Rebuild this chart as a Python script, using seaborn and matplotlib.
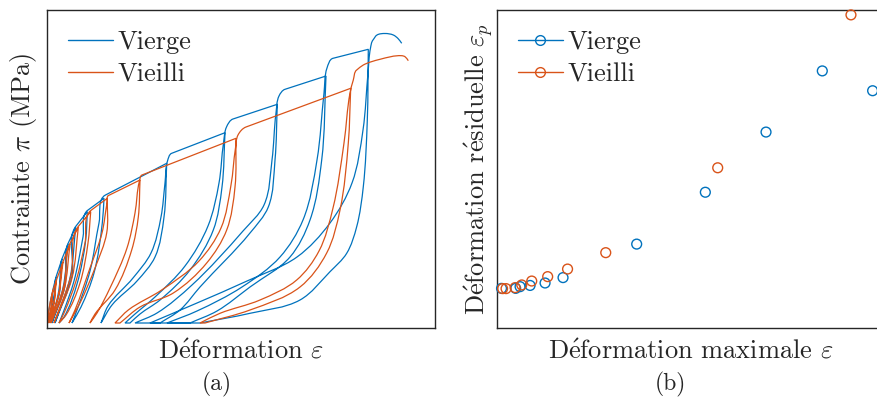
import numpy as np
import pandas as pd
import matplotlib
matplotlib.use('Agg')
import matplotlib.pyplot as plt
from matplotlib.path import Path
from matplotlib.patches import PathPatch
from matplotlib.lines import Line2D
import seaborn as sns

sns.set_theme(style='white')
plt.rcParams['font.family'] = ['cmr10', 'DejaVu Serif']
plt.rcParams['mathtext.fontset'] = 'cm'
plt.rcParams['axes.unicode_minus'] = False
plt.rcParams['axes.formatter.use_mathtext'] = True

blue = '#0072BD'
orange = '#D95319'

# ---- (a) cyclic stress-strain curves ----
# strain (x) and stress in MPa (y)
vierge_start = [(0, 0), (0.037, 0.23), (0.09, 0.46)]
vierge_unload = [
    [(0.09, 0.46), (0.06, 0.2), (0.015, 0)],
    [(0.15, 0.64), (0.11, 0.28), (0.03, 0)],
    [(0.21, 0.79), (0.16, 0.35), (0.05, 0)],
    [(0.287, 0.957), (0.23, 0.45), (0.08, 0)],
    [(0.403, 1.113), (0.387, 0.83), (0.303, 0.40), (0.17, 0.06), (0.12, 0)],
    [(0.57, 1.247), (0.553, 1.0), (0.47, 0.5), (0.34, 0.16), (0.25, 0)],
    [(1.197, 1.597), (1.17, 1.06), (1.08, 0.66), (0.9, 0.42), (0.65, 0.18), (0.54, 0)],
    [(1.78, 1.903), (1.75, 1.36), (1.663, 0.93), (1.43, 0.53), (1.13, 0.23), (0.93, 0.09), (0.83, 0)],
    [(2.303, 2.187), (2.28, 1.63), (2.213, 1.16), (2.03, 0.9), (1.53, 0.36), (1.33, 0.13), (1.13, 0)],
    [(2.79, 2.47), (2.747, 1.63), (2.63, 1.03), (2.43, 0.66), (2.03, 0.36), (1.7, 0.12), (1.43, 0)],
    [(3.213, 2.737), (3.203, 2.03), (3.163, 1.363), (3.097, 0.963), (2.997, 0.697),
     (2.83, 0.513), (2.53, 0.23), (2.03, 0.097), (1.53, 0)],
]
vierge_reload = [
    [(0.015, 0), (0.07, 0.22), (0.095, 0.475)],
    [(0.03, 0), (0.125, 0.3), (0.155, 0.655)],
    [(0.05, 0), (0.18, 0.37), (0.215, 0.805)],
    [(0.08, 0), (0.25, 0.47), (0.292, 0.972)],
    [(0.12, 0), (0.16, 0.10), (0.27, 0.42), (0.36, 0.86), (0.408, 1.128)],
    [(0.25, 0), (0.30, 0.13), (0.43, 0.52), (0.52, 1.0), (0.585, 1.28)],
    [(0.54, 0), (0.61, 0.17), (0.86, 0.45), (1.04, 0.70), (1.14, 1.06), (1.18, 1.40),
     (1.205, 1.62), (1.247, 1.697)],
    [(0.78, 0), (0.88, 0.09), (1.08, 0.26), (1.38, 0.57), (1.61, 0.97), (1.72, 1.40),
     (1.765, 1.80), (1.795, 1.96), (1.86, 2.04)],
    [(0.88, 0), (1.1, 0.1), (1.45, 0.38), (1.96, 0.92), (2.17, 1.18), (2.25, 1.63),
     (2.29, 2.1), (2.32, 2.27), (2.38, 2.337)],
    [(1.2, 0), (1.5, 0.12), (1.95, 0.36), (2.33, 0.66), (2.56, 1.03), (2.70, 1.63),
     (2.77, 2.3), (2.80, 2.55), (2.86, 2.647)],
    [(1.03, 0), (1.5, 0.2), (2.0, 0.42), (2.5, 0.66), (2.83, 1.0), (3.05, 1.4), (3.16, 1.93),
     (3.21, 2.5), (3.235, 2.75), (3.26, 2.83)],
]
vierge_tail = [(3.26, 2.83), (3.30, 2.88), (3.38, 2.895), (3.463, 2.88), (3.51, 2.845), (3.547, 2.797)]

vieilli_start = [(0, 0), (0.03, 0.2), (0.06, 0.33)]
vieilli_unload = [
    [(0.06, 0.33), (0.03, 0.1), (0.005, 0)],
    [(0.095, 0.43), (0.06, 0.15), (0.01, 0)],
    [(0.16, 0.61), (0.11, 0.25), (0.025, 0)],
    [(0.23, 0.79), (0.17, 0.33), (0.04, 0)],
    [(0.313, 0.957), (0.25, 0.45), (0.07, 0)],
    [(0.437, 1.113), (0.41, 0.8), (0.33, 0.4), (0.19, 0.08), (0.12, 0)],
    [(0.603, 1.247), (0.597, 0.9), (0.48, 0.55), (0.33, 0.2), (0.22, 0)],
    [(0.93, 1.43), (0.913, 1.06), (0.847, 0.73), (0.68, 0.33), (0.48, 0.09), (0.43, 0)],
    [(1.89, 1.847), (1.88, 1.36), (1.797, 0.93), (1.597, 0.6), (1.263, 0.3), (0.93, 0.16), (0.73, 0)],
    [(3.037, 2.347), (3.013, 1.8), (2.93, 1.13), (2.797, 0.7), (2.53, 0.36), (2.03, 0.13), (1.58, 0)],
]
vieilli_reload = [
    [(0.005, 0), (0.045, 0.15), (0.065, 0.345)],
    [(0.01, 0), (0.07, 0.2), (0.1, 0.445)],
    [(0.025, 0), (0.12, 0.3), (0.165, 0.625)],
    [(0.04, 0), (0.17, 0.38), (0.235, 0.805)],
    [(0.07, 0), (0.24, 0.48), (0.318, 0.972)],
    [(0.12, 0), (0.17, 0.1), (0.29, 0.42), (0.38, 0.8), (0.442, 1.128)],
    [(0.22, 0), (0.28, 0.13), (0.43, 0.55), (0.55, 0.9), (0.60, 1.2), (0.615, 1.275)],
    [(0.43, 0), (0.5, 0.1), (0.63, 0.35), (0.80, 0.75), (0.88, 1.1), (0.925, 1.42), (0.95, 1.48)],
    [(0.68, 0), (0.813, 0.13), (1.147, 0.33), (1.52, 0.62), (1.74, 0.95), (1.84, 1.38),
     (1.885, 1.75), (1.91, 1.88), (1.99, 1.96)],
    [(1.53, 0), (1.73, 0.097), (2.13, 0.23), (2.497, 0.43), (2.72, 0.72), (2.86, 1.15),
     (2.97, 1.8), (3.03, 2.3), (3.063, 2.43), (3.097, 2.53)],
]
vieilli_tail = [(3.097, 2.53), (3.163, 2.58), (3.33, 2.637), (3.547, 2.673), (3.58, 2.663), (3.613, 2.623)]

# ---- (b) residual strain vs max strain ----
vierge_max = [0.094, 0.213, 0.250, 0.334, 0.460, 0.611, 1.230, 1.807, 2.317, 2.790, 3.213]
vierge_res = [0.062, 0.062, 0.069, 0.074, 0.084, 0.106, 0.243, 0.455, 0.701, 0.951, 0.870]
vieilli_max = [0.103, 0.132, 0.208, 0.264, 0.348, 0.482, 0.649, 0.970, 1.911, 3.031]
vieilli_res = [0.061, 0.061, 0.065, 0.076, 0.092, 0.110, 0.141, 0.208, 0.555, 1.180]


def smooth(points, end_dir=None):
    # bezier through the read points, tangents from chord directions
    p = np.asarray(points, float)
    seg = np.diff(p, axis=0)
    ln = np.hypot(seg[:, 0], seg[:, 1])
    u = seg / ln[:, None]
    d = np.zeros_like(p)
    d[0] = u[0]
    d[-1] = u[-1]
    if len(p) > 2:
        m = u[:-1] + u[1:]
        d[1:-1] = m / np.hypot(m[:, 0], m[:, 1])[:, None]
    if end_dir is not None:
        e = np.asarray(end_dir, float)
        d[-1] = e / np.hypot(*e)
    verts = [p[0]]
    codes = [Path.MOVETO]
    for i in range(len(p) - 1):
        verts += [p[i] + d[i] * ln[i] / 3, p[i + 1] - d[i + 1] * ln[i] / 3, p[i + 1]]
        codes += [Path.CURVE4] * 3
    return verts, codes


def specimen_path(start, unloads, reloads, tail):
    verts, codes = smooth(start)
    for i, (un, re) in enumerate(zip(unloads, reloads)):
        if i > 0:
            verts.append(np.asarray(un[0], float))
            codes.append(Path.LINETO)
        v, c = smooth(un)
        verts += v[1:]
        codes += c[1:]
        if tuple(re[0]) != tuple(un[-1]):
            verts.append(np.asarray(re[0], float))
            codes.append(Path.LINETO)
        nxt = unloads[i + 1][0] if i + 1 < len(unloads) else tail[1]
        v, c = smooth(re, end_dir=np.subtract(nxt, re[-1]))
        verts += v[1:]
        codes += c[1:]
    v, c = smooth(tail)
    verts += v[1:]
    codes += c[1:]
    return Path(verts, codes)


fig = plt.figure(figsize=(8.77, 4.01), dpi=100)
ax1 = fig.add_axes([47 / 877, 73 / 401, 388 / 877, 318 / 401])
ax2 = fig.add_axes([497 / 877, 73 / 401, 388 / 877, 318 / 401])

for start, un, re, tail, col in [
        (vierge_start, vierge_unload, vierge_reload, vierge_tail, blue),
        (vieilli_start, vieilli_unload, vieilli_reload, vieilli_tail, orange)]:
    ax1.add_patch(PathPatch(specimen_path(start, un, re, tail), facecolor='none',
                            edgecolor=col, lw=0.9))

ax1.set_xlim(0, 3.88)
ax1.set_ylim(-0.05, 3.13)

df = pd.DataFrame({
    'max': vierge_max + vieilli_max,
    'res': vierge_res + vieilli_res,
    'etat': ['Vierge'] * len(vierge_max) + ['Vieilli'] * len(vieilli_max),
})
for etat, col in [('Vierge', blue), ('Vieilli', orange)]:
    sns.scatterplot(data=df[df['etat'] == etat], x='max', y='res', ax=ax2, marker='o',
                    s=50, facecolor='none', edgecolor=col, linewidth=1.0,
                    legend=False, clip_on=False, zorder=3)
ax2.set_xlim(0.056, 3.317)
ax2.set_ylim(-0.1, 1.2)

for ax in (ax1, ax2):
    ax.set_xticks([])
    ax.set_yticks([])
    for s in ax.spines.values():
        s.set_color('#262626')
        s.set_linewidth(1.0)

fs = 19
e_acute = r'$\mathrm{\acute{e}}$'
ax1.set_xlabel('D' + e_acute + r'formation $\varepsilon$', fontsize=fs, labelpad=8)
ax1.set_ylabel(r'Contrainte $\pi$ (MPa)', fontsize=fs, labelpad=6)
ax2.set_xlabel('D' + e_acute + r'formation maximale $\varepsilon$', fontsize=fs, labelpad=8)
ax2.set_ylabel('D' + e_acute + 'formation r' + e_acute + r'siduelle $\varepsilon_p$',
               fontsize=fs, labelpad=1)

h1 = [Line2D([], [], color=blue, lw=1), Line2D([], [], color=orange, lw=1)]
h2 = [Line2D([], [], color=blue, lw=1, marker='o', mfc='none', ms=7),
      Line2D([], [], color=orange, lw=1, marker='o', mfc='none', ms=7)]
for ax, h in ((ax1, h1), (ax2, h2)):
    ax.legend(h, ['Vierge', 'Vieilli'], loc='upper left', bbox_to_anchor=(0.054, 0.935),
              frameon=False, fontsize=fs, handlelength=1.7, handletextpad=0.18,
              labelspacing=0.3, borderaxespad=0, borderpad=0)

fig.text(217 / 877, 1 - 384 / 401, '(a)', ha='center', va='center', fontsize=17)
fig.text(670 / 877, 1 - 384 / 401, '(b)', ha='center', va='center', fontsize=17)

fig.savefig('out.png', dpi=100)
